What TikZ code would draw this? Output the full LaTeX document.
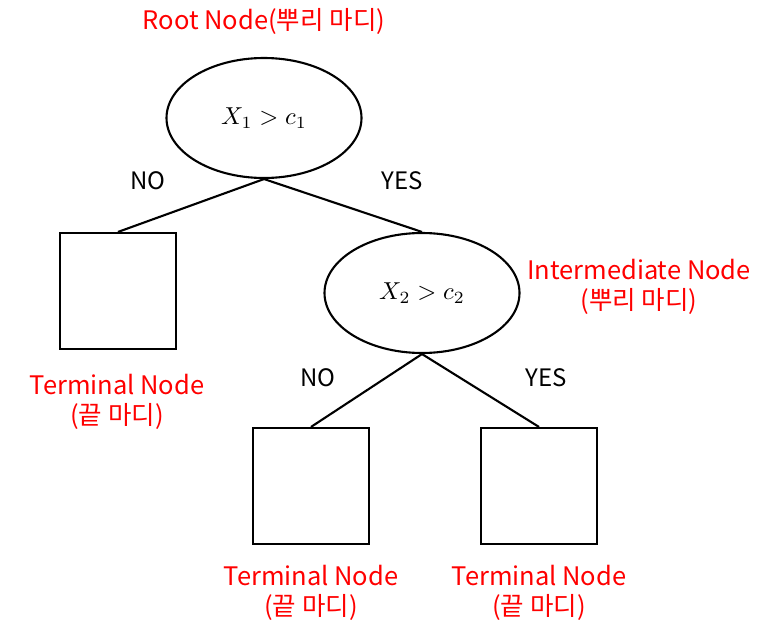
\documentclass[tikz,border=0pt]{standalone}
\usepackage{fontspec}
\usepackage{graphicx}
\setmainfont{Noto Sans CJK KR}
\usetikzlibrary{shapes.geometric}
\newcommand{\bigmath}[1]{\scalebox{2.45}{$#1$}}
\begin{document}
\begin{tikzpicture}[x=1pt,y=-1pt,
  lbl/.style={text=red,font=\fontsize{25.5}{30}\selectfont,align=center,inner sep=0pt},
  yn/.style={font=\fontsize{24}{28}\selectfont,inner sep=0pt},
  oval/.style={draw,line width=2.1pt,ellipse,minimum width=195pt,minimum height=120pt,inner sep=0pt},
  term/.style={draw,line width=2.1pt,minimum width=116pt,minimum height=116pt,inner sep=0pt},
  edge/.style={line width=2.1pt}]
\useasboundingbox (0,0) rectangle (761,623);
\node[oval] (root) at (264,118) {\bigmath{X_1 > c_1}};
\node[oval] (mid) at (422,293) {\bigmath{X_2 > c_2}};
\node[term] (t1) at (118,291) {};
\node[term] (t2) at (311,486) {};
\node[term] (t3) at (539,486) {};
\draw[edge] (root.south) -- (t1.north);
\draw[edge] (root.south) -- (mid.north);
\draw[edge] (mid.south) -- (t2.north);
\draw[edge] (mid.south) -- (t3.north);
\node[lbl] (lroot) at (264,21) {Root Node(뿌리 마디)};
\node[lbl] (lmid) at (639,287) {Intermediate Node\\(뿌리 마디)};
\node[lbl] (lt1) at (117,402) {Terminal Node\\(끝 마디)};
\node[lbl] (lt2) at (311,593) {Terminal Node\\(끝 마디)};
\node[lbl] (lt3) at (539,593) {Terminal Node\\(끝 마디)};
\node[yn] (n1) at (148,181) {NO};
\node[yn] (y1) at (402,181) {YES};
\node[yn] (n2) at (318,378) {NO};
\node[yn] (y2) at (546,378) {YES};
\end{tikzpicture}
\end{document}
